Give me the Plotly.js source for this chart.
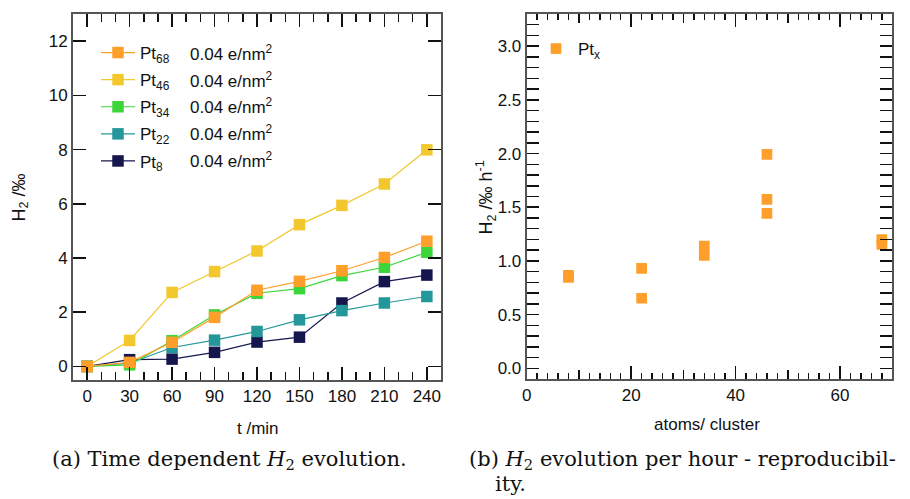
<!DOCTYPE html>
<html><head><meta charset="utf-8">
<script src="https://cdn.plot.ly/plotly-3.0.1.min.js"></script>
<style>html,body{margin:0;padding:0;background:#fff}</style>
</head><body><div id="chart" style="width:910px;height:499px"></div>
<script>
// ---- data (a): time dependent H2 evolution ----
const timeMin = [0, 30, 60, 90, 120, 150, 180, 210, 240];
const pt68 = [0, 0.15, 0.89, 1.81, 2.81, 3.14, 3.53, 4.02, 4.62];
const pt46 = [0, 0.96, 2.73, 3.50, 4.26, 5.23, 5.94, 6.73, 7.99];
const pt34 = [0, 0.06, 0.95, 1.90, 2.70, 2.87, 3.35, 3.66, 4.21];
const pt22 = [0, 0.12, 0.70, 0.97, 1.29, 1.72, 2.06, 2.34, 2.58];
const pt8  = [0, 0.25, 0.27, 0.52, 0.90, 1.08, 2.34, 3.13, 3.37];
const seriesNames = ['Pt<sub>68</sub>', 'Pt<sub>46</sub>', 'Pt<sub>34</sub>', 'Pt<sub>22</sub>', 'Pt<sub>8</sub>'];
const loadLabel = '0.04 e/nm<sup>2</sup>';
// ---- data (b): H2 evolution per hour ----
const clusterAtoms = [8, 8, 22, 22, 34, 34, 46, 46, 46, 68, 68];
const ratePerHour  = [0.866, 0.847, 0.931, 0.652, 1.139, 1.052, 1.992, 1.573, 1.443, 1.198, 1.154];
const scatterName = 'Pt<sub>x</sub>';

const seriesY = [pt68, pt46, pt34, pt22, pt8];
const colors = ['#FF9F2B', '#F2C82E', '#3DD63A', '#24979A', '#16164F'];
const FONT = '"Liberation Sans", Arial, sans-serif';
const SERIF = '"DejaVu Serif", serif';

const traces = [];
// draw Pt8 first so Pt68 ends up on top; legend order set by legendrank
for (let i = seriesY.length - 1; i >= 0; i--) {
  traces.push({
    type: 'scatter', mode: 'lines+markers',
    x: timeMin, y: seriesY[i], name: seriesNames[i],
    legendgroup: 'g' + i, legendrank: i + 1,
    line: {color: colors[i], width: 1.2},
    marker: {symbol: 'square', size: 11.5, color: colors[i]},
    xaxis: 'x', yaxis: 'y', legend: 'legend'
  });
}
traces.push({
  type: 'scatter', mode: 'markers',
  x: clusterAtoms, y: ratePerHour, name: scatterName,
  marker: {symbol: 'square', size: 10.7, color: '#FF9F2B'},
  xaxis: 'x2', yaxis: 'y2', legend: 'legend2'
});
// empty trace so the medium-tick overlay axis is drawn
traces.push({type: 'scatter', mode: 'markers', x: [], y: [], xaxis: 'x3', yaxis: 'y2', showlegend: false, hoverinfo: 'skip'});

const W = 910, H = 499;
const px = v => v / W;
const py = v => (H - v) / H;

const axBase = {
  showgrid: false, zeroline: false, showline: true, linecolor: '#555', linewidth: 2,
  mirror: 'allticks', ticks: 'inside', tickcolor: '#111', tickwidth: 1.5,
  tickfont: {family: FONT, size: 17, color: '#111'}
};

const annotations = [];
const rowY0 = 52, rowStep = 26.65;
for (let i = 0; i < seriesNames.length; i++) {
  annotations.push({xref: 'paper', yref: 'paper', x: px(188), y: py(rowY0 + i * rowStep + 1),
    xanchor: 'left', yanchor: 'middle', showarrow: false, text: loadLabel,
    font: {family: FONT, size: 17, color: '#111'}});
}
annotations.push(
  {xref: 'paper', yref: 'paper', x: px(258), y: py(428), text: 't /min', showarrow: false,
   xanchor: 'center', yanchor: 'middle', font: {family: FONT, size: 17, color: '#111'}},
  {xref: 'paper', yref: 'paper', x: px(707), y: py(424), text: 'atoms/ cluster', showarrow: false,
   xanchor: 'center', yanchor: 'middle', font: {family: FONT, size: 17, color: '#111'}},
  {xref: 'paper', yref: 'paper', x: px(20), y: py(197.5), text: 'H<sub>2</sub> /‰', textangle: -90,
   showarrow: false, xanchor: 'center', yanchor: 'middle', font: {family: FONT, size: 18, color: '#111'}},
  {xref: 'paper', yref: 'paper', x: px(486), y: py(197.5), text: 'H<sub>2</sub> /‰ h<sup>-1</sup>', textangle: -90,
   showarrow: false, xanchor: 'center', yanchor: 'middle', font: {family: FONT, size: 18, color: '#111'}},
  {xref: 'paper', yref: 'paper', x: px(229), y: py(460), text: '(a) Time dependent <i>H</i><sub>2</sub> evolution.',
   showarrow: false, xanchor: 'center', yanchor: 'middle', font: {family: SERIF, size: 21, color: '#111'}},
  {xref: 'paper', yref: 'paper', x: px(467), y: py(460), text: '(b) <i>H</i><sub>2</sub> evolution per hour - reproducibil-',
   showarrow: false, xanchor: 'left', yanchor: 'middle', font: {family: SERIF, size: 21, color: '#111'}},
  {xref: 'paper', yref: 'paper', x: px(493), y: py(484), text: 'ity.',
   showarrow: false, xanchor: 'left', yanchor: 'middle', font: {family: SERIF, size: 21, color: '#111'}}
);

const layout = {
  width: W, height: H, margin: {l: 0, r: 0, t: 0, b: 0},
  paper_bgcolor: '#fff', plot_bgcolor: '#fff',
  font: {family: FONT, color: '#111', size: 17},
  showlegend: true,
  xaxis: Object.assign({}, axBase, {domain: [px(73), px(441)], anchor: 'y', range: [-10, 250],
    tick0: 0, dtick: 30, ticklen: 13,
    minor: {ticks: 'inside', dtick: 10, tick0: 0, ticklen: 8, tickwidth: 1.5, tickcolor: '#111'}}),
  yaxis: Object.assign({}, axBase, {domain: [py(380), py(14)], anchor: 'x', range: [-0.5, 13],
    tick0: 0, dtick: 2, ticklen: 13}),
  xaxis2: Object.assign({}, axBase, {domain: [px(526.7), px(892.3)], anchor: 'y2', range: [0, 70],
    tick0: 0, dtick: 20, ticklen: 13,
    minor: {ticks: 'inside', dtick: 2, tick0: 0, ticklen: 6, tickwidth: 1.5, tickcolor: '#111'}}),
  xaxis3: {overlaying: 'x2', anchor: 'y2', range: [0, 70], tick0: 0, dtick: 10, ticks: 'inside',
    ticklen: 9, tickwidth: 1.5, tickcolor: '#111', showticklabels: false, showgrid: false,
    zeroline: false, showline: false, mirror: 'allticks'},
  yaxis2: Object.assign({}, axBase, {domain: [py(379), py(14)], anchor: 'x2', range: [-0.1, 3.3],
    tick0: 0, dtick: 0.5, tickformat: '.1f', ticklen: 12,
    minor: {ticks: 'inside', dtick: 0.1, tick0: 0, ticklen: 6, tickwidth: 1.5, tickcolor: '#111'}}),
  legend: {x: px(96), y: py(35), xanchor: 'left', yanchor: 'top', bgcolor: 'rgba(0,0,0,0)', itemwidth: 34,
    traceorder: 'grouped', tracegroupgap: 2, font: {family: FONT, size: 17, color: '#111'}},
  legend2: {x: px(534), y: py(31), xanchor: 'left', yanchor: 'top', bgcolor: 'rgba(0,0,0,0)', itemwidth: 34,
    font: {family: FONT, size: 17, color: '#111'}},
  annotations: annotations
};

Plotly.newPlot('chart', traces, layout, {displayModeBar: false, staticPlot: true});
</script></body></html>
